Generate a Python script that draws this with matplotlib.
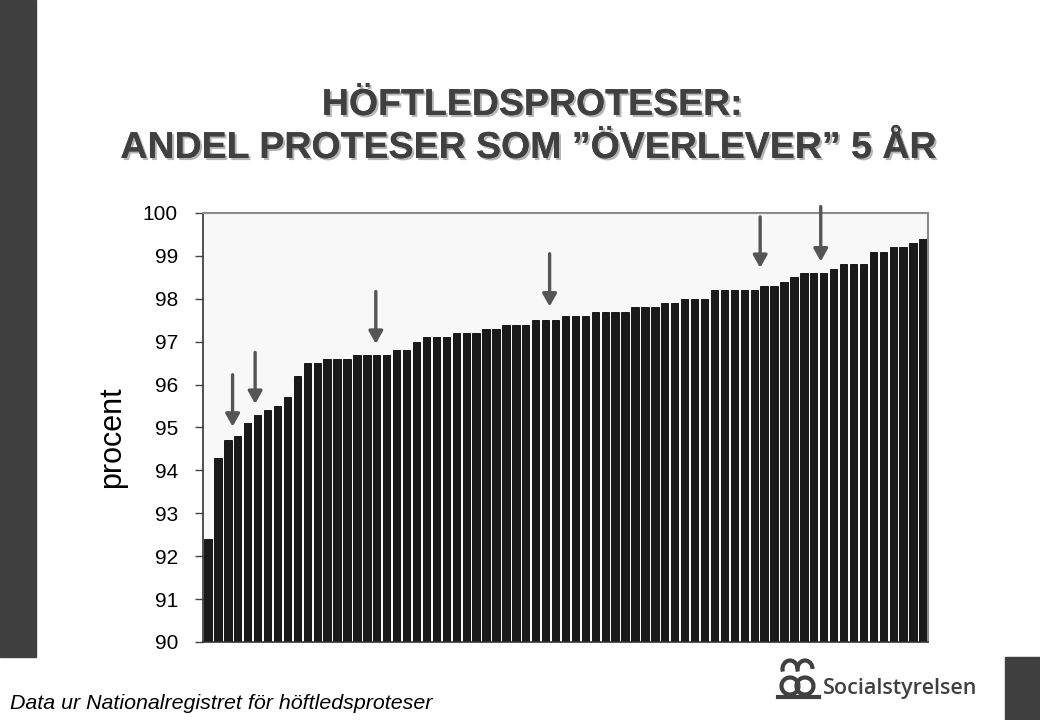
import matplotlib
matplotlib.use("Agg")
import matplotlib.pyplot as plt
import matplotlib.patheffects as pe
from matplotlib.patches import Rectangle, Arc
import numpy as np

plt.rcParams['font.family'] = ['Liberation Sans', 'DejaVu Sans']

# Survival after 5 years per unit, sorted ascending (percent)
values = [92.4, 94.3, 94.7, 94.8, 95.1, 95.3, 95.4, 95.5, 95.7, 96.2,
          96.5, 96.5, 96.6, 96.6, 96.6, 96.7, 96.7, 96.7, 96.7, 96.8,
          96.8, 97.0, 97.1, 97.1, 97.1, 97.2, 97.2, 97.2, 97.3, 97.3,
          97.4, 97.4, 97.4, 97.5, 97.5, 97.5, 97.6, 97.6, 97.6, 97.7,
          97.7, 97.7, 97.7, 97.8, 97.8, 97.8, 97.9, 97.9, 98.0, 98.0,
          98.0, 98.2, 98.2, 98.2, 98.2, 98.2, 98.3, 98.3, 98.4, 98.5,
          98.6, 98.6, 98.6, 98.7, 98.8, 98.8, 98.8, 99.1, 99.1, 99.2,
          99.2, 99.3, 99.4]

# highlighted units: bar position, arrow tail value, arrow tip value
arrow_pos = [2.48, 4.75, 16.9, 34.4, 55.6, 61.7]
arrow_tail = [96.23, 96.75, 98.17, 99.05, 99.91, 100.15]
arrow_tip = [95.02, 95.55, 96.95, 97.82, 98.72, 98.87]

yticks = list(range(90, 101))

title_lines = ["HÖFTLEDSPROTESER:", "ANDEL PROTESER SOM ”ÖVERLEVER” 5 ÅR"]
source = "Data ur Nationalregistret för höftledsproteser"

fig = plt.figure(figsize=(10.4, 7.2), dpi=100)
fig.patch.set_facecolor('white')

# dark decoration bands of the slide
fig.add_artist(Rectangle((0, 1 - 657 / 720), 36 / 1040, 657 / 720,
                         transform=fig.transFigure, color='#404040', zorder=0))
fig.add_artist(Rectangle((1005 / 1040, 0), 35 / 1040, 63 / 720,
                         transform=fig.transFigure, color='#404040', zorder=0))

ax = fig.add_axes([203 / 1040, 1 - 642 / 720, 725 / 1040, 429 / 720])
ax.set_facecolor('#f8f8f8')

x = np.arange(len(values))
ax.bar(x, values, width=0.74, color='#1a1a1a', edgecolor='#050505',
       linewidth=0.6, zorder=2)

ax.set_xlim(-0.5, len(values) - 0.5)
ax.set_ylim(90, 100)
ax.set_yticks(yticks)
ax.set_xticks([])
ax.tick_params(axis='y', direction='out', length=6, width=1, colors='#444444',
               labelcolor='black', labelsize=15, pad=12)

for side in ['top', 'right']:
    ax.spines[side].set_color('#8a8a8a')
    ax.spines[side].set_linewidth(1.5)
for side in ['left', 'bottom']:
    ax.spines[side].set_color('#333333')
    ax.spines[side].set_linewidth(1.2)

for p, t0, t1 in zip(arrow_pos, arrow_tail, arrow_tip):
    ax.annotate('', xy=(p, t1), xytext=(p, t0), annotation_clip=False,
                arrowprops=dict(arrowstyle='-|>,head_width=0.42,head_length=0.75',
                                color='#555555', lw=2.4, shrinkA=0, shrinkB=0,
                                mutation_scale=10), zorder=5)

fig.text(112 / 1040, 1 - 437 / 720, 'procent', rotation=90, ha='center',
         va='center', fontsize=22, color='black')

shadow = [pe.withSimplePatchShadow(offset=(1.5, -1.5), shadow_rgbFace='#b5b5b5',
                                   alpha=1.0), pe.Normal()]
fig.text(532 / 1040, 1 - 115 / 720, title_lines[0], ha='center', va='baseline',
         fontsize=27, fontweight='bold', color='#404040', path_effects=shadow)
fig.text(528 / 1040, 1 - 158 / 720, title_lines[1], ha='center', va='baseline',
         fontsize=27, fontweight='bold', color='#404040', path_effects=shadow)

fig.text(10 / 1040, 1 - 709 / 720, source, ha='left', va='baseline',
         fontsize=15.4, style='italic', color='black')

# Socialstyrelsen logo (approximation)
fig.text(823 / 1040, 1 - 694 / 720, 'Socialstyrelsen', ha='left',
         va='baseline', fontsize=15.5, fontweight='semibold', color='#404040',
         family=['Open Sans', 'DejaVu Sans'])
logo = fig.add_axes([774 / 1040, 1 - 700 / 720, 48 / 1040, 44 / 720])
logo.set_xlim(0, 48)
logo.set_ylim(0, 44)
logo.axis('off')
for cx in (16, 31):
    logo.add_patch(Arc((cx, 14), 17, 17, color='#404040', lw=3))
    logo.add_patch(Arc((cx, 31), 15, 17, theta1=0, theta2=200,
                       color='#404040', lw=3))
logo.plot([4, 45], [3, 3], color='#404040', lw=3)

fig.savefig('out.png', dpi=100, facecolor='white')
